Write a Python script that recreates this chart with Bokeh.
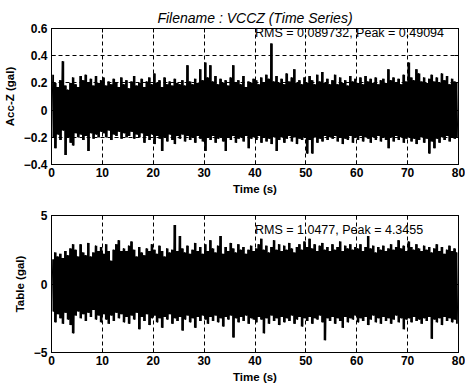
import numpy as np
from bokeh.plotting import figure
from bokeh.layouts import column
from bokeh.models import FixedTicker, Range1d, LinearAxis
from bokeh.core.properties import value
from bokeh.embed import file_html
from bokeh.resources import INLINE

# ---------------- data (envelope peaks read per 0.5 s bin) ----------------
bin_width = 0.5
accz_upper = [
    0.26, 0.2, 0.17, 0.22, 0.36, 0.18, 0.15, 0.2, 0.24, 0.19,
    0.17, 0.25, 0.22, 0.26, 0.2, 0.23, 0.18, 0.25, 0.2, 0.22,
    0.24, 0.18, 0.21, 0.19, 0.23, 0.2, 0.17, 0.24, 0.19, 0.22,
    0.16, 0.21, 0.25, 0.18, 0.2, 0.23, 0.17, 0.21, 0.24, 0.19,
    0.27, 0.2, 0.22, 0.17, 0.24, 0.19, 0.21, 0.18, 0.23, 0.2,
    0.19, 0.22, 0.18, 0.33, 0.21, 0.19, 0.23, 0.2, 0.3, 0.22,
    0.35, 0.24, 0.33, 0.21, 0.25, 0.19, 0.23, 0.2, 0.22, 0.18,
    0.24, 0.33, 0.2, 0.22, 0.19, 0.25, 0.17, 0.21, 0.2, 0.23,
    0.22, 0.19, 0.24, 0.2, 0.26, 0.23, 0.49, 0.21, 0.25, 0.2,
    0.23, 0.19, 0.27, 0.21, 0.24, 0.3, 0.2, 0.22, 0.19, 0.24,
    0.2, 0.25, 0.22, 0.19, 0.26, 0.21, 0.28, 0.2, 0.23, 0.19,
    0.22, 0.26, 0.19, 0.24, 0.2, 0.22, 0.18, 0.25, 0.21, 0.23,
    0.2, 0.24, 0.19, 0.25, 0.21, 0.23, 0.2, 0.24, 0.19, 0.22,
    0.23, 0.2, 0.3, 0.22, 0.24, 0.2, 0.23, 0.19, 0.26, 0.21,
    0.35, 0.24, 0.22, 0.3, 0.27, 0.21, 0.24, 0.2, 0.23, 0.26,
    0.21, 0.24, 0.2, 0.27, 0.22, 0.25, 0.19, 0.23, 0.21, 0.2,
]
accz_lower = [
    -0.2, -0.28, -0.18, -0.22, -0.15, -0.33, -0.2, -0.24, -0.26, -0.17,
    -0.2, -0.18, -0.22, -0.19, -0.3, -0.17, -0.21, -0.18, -0.2, -0.16,
    -0.17, -0.2, -0.15, -0.22, -0.18, -0.19, -0.16, -0.21, -0.17, -0.2,
    -0.19, -0.16, -0.21, -0.18, -0.2, -0.17, -0.24, -0.19, -0.22, -0.18,
    -0.25, -0.19, -0.21, -0.3, -0.2, -0.23, -0.18, -0.22, -0.25, -0.19,
    -0.21, -0.18, -0.23, -0.19, -0.22, -0.2, -0.24, -0.19, -0.21, -0.23,
    -0.3, -0.2, -0.22, -0.19, -0.24, -0.21, -0.2, -0.23, -0.3, -0.2,
    -0.22, -0.19, -0.24, -0.21, -0.2, -0.23, -0.19, -0.28, -0.21, -0.2,
    -0.22, -0.19, -0.24, -0.2, -0.23, -0.21, -0.25, -0.2, -0.3, -0.22,
    -0.2, -0.24, -0.21, -0.19, -0.23, -0.2, -0.25, -0.21, -0.22, -0.2,
    -0.32, -0.22, -0.32, -0.2, -0.24, -0.21, -0.23, -0.19, -0.22, -0.2,
    -0.21, -0.19, -0.23, -0.2, -0.25, -0.21, -0.22, -0.19, -0.24, -0.2,
    -0.22, -0.19, -0.23, -0.2, -0.21, -0.24, -0.2, -0.22, -0.19, -0.23,
    -0.2, -0.22, -0.28, -0.2, -0.23, -0.19, -0.22, -0.2, -0.24, -0.21,
    -0.2, -0.23, -0.21, -0.25, -0.22, -0.2, -0.24, -0.21, -0.32, -0.23,
    -0.28, -0.21, -0.24, -0.2, -0.22, -0.19, -0.23, -0.2, -0.21, -0.2,
]
table_upper = [
    1.8, 2.3, 2.0, 2.2, 1.9, 2.4, 2.1, 2.6, 2.9, 2.5,
    2.0, 2.9, 2.3, 2.1, 3.0, 2.0, 2.3, 2.8, 2.4, 2.7,
    2.2, 2.9, 2.4, 1.7, 2.5, 2.9, 3.2, 2.4, 2.6, 2.4,
    2.8, 3.1, 2.5, 2.0, 2.7, 2.3, 2.1, 2.6, 2.4, 2.9,
    2.5, 2.2, 2.8, 2.4, 2.0, 2.6, 2.3, 2.5, 4.3, 2.4,
    3.5, 2.6, 2.3, 2.8, 2.2, 2.5, 3.0, 2.4, 2.7, 2.2,
    2.9, 2.4, 3.2, 2.6, 2.3, 2.8, 3.5, 2.2, 2.7, 2.4,
    3.0, 2.6, 2.3, 2.9, 2.5, 2.7, 2.2, 2.5, 2.8, 2.4,
    2.6, 2.9, 3.3, 2.5, 2.8, 2.3, 2.7, 3.2, 2.5, 2.9,
    2.4, 2.8, 2.5, 3.0, 2.6, 2.3, 2.7, 2.9, 2.5, 3.1,
    2.7, 3.3, 2.6, 2.9, 2.4, 2.8, 3.0, 2.5, 2.7, 2.4,
    2.9, 2.5, 2.7, 3.1, 2.4, 2.8, 2.6, 2.9, 2.5, 2.7,
    2.6, 2.9, 2.4, 2.7, 3.5, 2.6, 2.8, 2.3, 2.7, 2.5,
    2.8, 2.4, 2.6, 2.9, 2.5, 2.7, 3.2, 2.6, 2.8, 2.4,
    3.1, 2.7, 2.5, 2.9, 2.6, 2.4, 2.8, 2.5, 2.7, 2.3,
    2.6, 2.9, 2.4, 2.7, 2.2, 2.5, 2.8, 2.4, 2.6, 2.3,
]
table_lower = [
    -2.0, -2.8, -2.2, -2.5, -2.9, -2.1, -2.6, -3.0, -3.6, -2.3,
    -2.0, -2.5, -2.2, -2.7, -2.1, -2.4, -1.9, -2.6, -2.3, -2.8,
    -2.2, -2.6, -2.9, -2.3, -2.7, -2.1, -2.5, -2.2, -2.8, -2.4,
    -2.9, -2.3, -2.6, -2.1, -3.3, -2.4, -2.7, -2.2, -3.0, -2.5,
    -2.3, -2.8, -2.5, -3.2, -2.4, -2.6, -2.2, -2.9, -2.5, -2.7,
    -2.4, -3.4, -2.6, -2.3, -2.8, -2.5, -3.2, -2.4, -2.7, -2.3,
    -2.6, -2.9, -2.4, -2.7, -2.3, -2.8, -2.5, -3.1, -2.4, -2.6,
    -2.3, -3.9, -2.5, -2.8, -2.4, -2.7, -2.3, -2.9, -2.5, -2.6,
    -2.8, -2.4, -2.6, -3.6, -2.5, -2.9, -2.3, -2.7, -2.5, -3.0,
    -2.4, -2.8, -2.5, -2.7, -2.3, -2.9, -2.6, -2.4, -3.1, -2.5,
    -2.7, -2.4, -2.9, -2.5, -2.6, -2.3, -2.8, -4.1, -2.5, -2.7,
    -2.4, -2.9, -2.5, -2.7, -3.2, -2.4, -2.8, -2.5, -2.6, -2.3,
    -2.8, -2.5, -2.7, -2.4, -3.0, -2.6, -2.3, -2.8, -2.5, -2.9,
    -2.4, -2.7, -2.5, -2.9, -2.6, -2.3, -2.8, -2.5, -3.3, -2.6,
    -2.5, -2.8, -2.4, -2.7, -2.6, -2.9, -2.5, -2.7, -2.4, -4.0,
    -2.6, -2.8, -2.5, -3.0, -2.4, -2.7, -2.5, -2.8, -2.6, -2.9,
]
x_ticks = [0, 10, 20, 30, 40, 50, 60, 70, 80]
accz_ticks = [-0.4, -0.2, 0, 0.2, 0.4, 0.6]
table_ticks = [-5, 0, 5]
title_text = "Filename : VCCZ (Time Series)"
accz_note = "RMS = 0.089732, Peak = 0.49094"
table_note = "RMS = 1.0477, Peak = 4.3455"

FONT = "Liberation Sans"


def bins(upper, lower):
    n = len(upper)
    t = np.arange(n) * bin_width + bin_width / 2
    return t, np.asarray(upper), np.asarray(lower)


def zigzag(upper, lower):
    n = len(upper)
    idx = np.arange(n) * bin_width
    t = np.empty(2 * n)
    y = np.empty(2 * n)
    t[0::2] = idx + bin_width * 0.3
    t[1::2] = idx + bin_width * 0.7
    y[0::2] = upper
    y[1::2] = lower
    return t, y


def style(p, yticks, ylabel):
    p.xaxis.ticker = FixedTicker(ticks=x_ticks)
    p.yaxis.ticker = FixedTicker(ticks=yticks)
    for ax in (p.xaxis[0], p.yaxis[0]):
        ax.major_tick_in = 4
        ax.major_tick_out = 0
        ax.minor_tick_line_color = None
        ax.axis_line_color = "black"
        ax.major_tick_line_color = "black"
        ax.major_label_text_font = FONT
        ax.major_label_text_font_style = "bold"
        ax.major_label_text_font_size = "12px"
        ax.major_label_text_color = "black"
        ax.axis_label_text_font = FONT
        ax.axis_label_text_font_style = "bold"
        ax.axis_label_text_font_size = "11.5px"
        ax.axis_label_text_color = "black"
    p.xaxis.axis_label = "Time (s)"
    p.yaxis.axis_label = ylabel
    p.xaxis.major_label_standoff = 3
    p.xaxis.axis_label_standoff = 3
    p.yaxis.major_label_standoff = 4
    p.yaxis.axis_label_standoff = 5
    # box ticks on top and right (no labels)
    for loc, tks in (("above", x_ticks), ("right", yticks)):
        ax = LinearAxis(ticker=FixedTicker(ticks=tks))
        ax.major_tick_in = 4
        ax.major_tick_out = 0
        ax.minor_tick_line_color = None
        ax.major_label_overrides = {t: "" for t in tks}
        ax.major_label_standoff = 0
        ax.axis_line_color = "black"
        ax.major_tick_line_color = "black"
        p.add_layout(ax, loc)
    for g in (p.xgrid[0], p.ygrid[0]):
        g.grid_line_color = "black"
        g.grid_line_dash = "4 3"
        g.grid_line_width = 1
    p.xgrid.ticker = FixedTicker(ticks=x_ticks)
    p.ygrid.ticker = FixedTicker(ticks=yticks)
    p.outline_line_color = "black"
    p.outline_line_width = 1
    p.background_fill_color = "white"
    p.border_fill_color = "white"


def draw_series(p, upper, lower):
    t, up, lo = bins(upper, lower)
    p.varea_step(x=t, y1=lo, y2=up, step_mode="center", fill_color="black")
    tz, yz = zigzag(upper, lower)
    p.line(tz, yz, line_color="black", line_width=1)


# ---------------- top: Acc-Z ----------------
p1 = figure(width=465, height=197, output_backend="svg", toolbar_location=None,
            x_range=Range1d(0, 80), y_range=Range1d(-0.4, 0.6),
            min_border_left=48, min_border_right=7, min_border_top=28, min_border_bottom=33,
            title=title_text)
p1.title.align = "center"
p1.title.text_font = FONT
p1.title.text_font_style = "italic"
p1.title.text_font_size = "14px"
p1.title.text_color = "black"
p1.title.offset = 5
p1.title.standoff = 6
style(p1, accz_ticks, "Acc-Z (gal)")
draw_series(p1, accz_upper, accz_lower)
p1.text(x=[40], y=[0.565], text=[accz_note], text_font=value(FONT), text_font_size="12.5px",
        text_baseline="middle", text_align="left", text_color="black")

# ---------------- bottom: Table ----------------
p2 = figure(width=465, height=190, output_backend="svg", toolbar_location=None,
            x_range=Range1d(0, 80), y_range=Range1d(-5, 5),
            min_border_left=48, min_border_right=7, min_border_top=18, min_border_bottom=35)
style(p2, table_ticks, "Table (gal)")
draw_series(p2, table_upper, table_lower)
p2.text(x=[40], y=[3.95], text=[table_note], text_font=value(FONT), text_font_size="12.5px",
        text_baseline="middle", text_align="left", text_color="black")

layout = column(p1, p2, spacing=0)
open("out.html", "w").write(file_html(layout, INLINE))
